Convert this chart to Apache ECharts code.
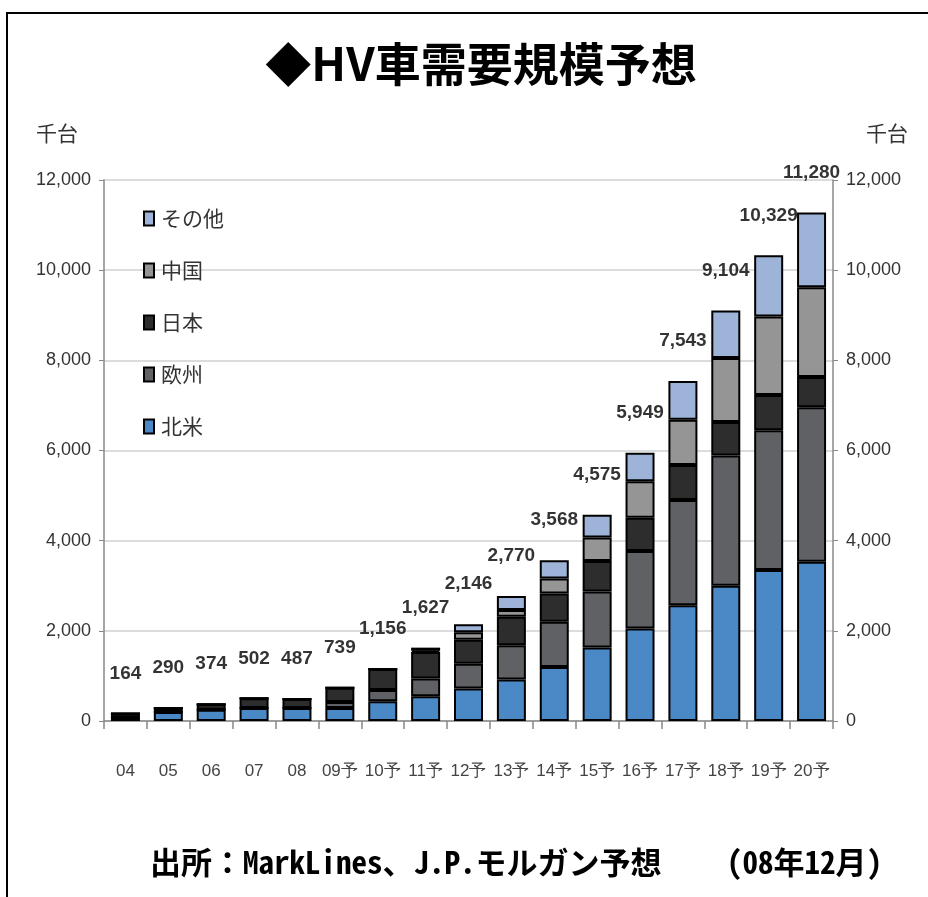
<!DOCTYPE html>
<html>
<head>
<meta charset="utf-8">
<script src="https://cdn.jsdelivr.net/npm/echarts@6/dist/echarts.min.js"></script>
<style>
html, body { margin: 0; padding: 0; background: #fff; }
#main { width: 928px; height: 897px; }
</style>
</head>
<body>
<div id="main"></div>
<script>
var years = ["04", "05", "06", "07", "08", "09予", "10予", "11予", "12予", "13予", "14予", "15予", "16予", "17予", "18予", "19予", "20予"];
var regions = ["北米", "欧州", "日本", "中国", "その他"];
var northAmerica = [70, 200, 250, 290, 290, 290, 440, 550, 720, 920, 1200, 1630, 2050, 2570, 3000, 3350, 3530];
var europe = [0, 0, 0, 0, 0, 130, 250, 390, 550, 760, 1000, 1240, 1720, 2330, 2890, 3100, 3430];
var japan = [94, 90, 124, 212, 197, 319, 466, 590, 530, 630, 630, 680, 740, 780, 740, 780, 670];
var china = [0, 0, 0, 0, 0, 0, 0, 30, 170, 150, 330, 520, 810, 1000, 1420, 1740, 1990];
var others = [0, 0, 0, 0, 0, 0, 0, 67, 176, 310, 408, 505, 629, 863, 1054, 1359, 1660];
var totals = [164, 290, 374, 502, 487, 739, 1156, 1627, 2146, 2770, 3568, 4575, 5949, 7543, 9104, 10329, 11280];
var yTicks = [0, 2000, 4000, 6000, 8000, 10000, 12000];

var sans = "'Liberation Sans', Arial, sans-serif";
var gothic = "'Noto Sans CJK JP', sans-serif";
var mono = "'Noto Sans Mono CJK JP', 'Noto Sans CJK JP', sans-serif";
var colors = ['#4a88c6', '#606165', '#2d2d2d', '#959595', '#9db4d8'];
var seriesData = [northAmerica, europe, japan, china, others];

var series = [];
for (var i = 0; i < regions.length; i++) {
	series.push({
		name: regions[i],
		type: 'bar',
		stack: 'hv',
		barWidth: 29,
		yAxisIndex: 0,
		itemStyle: {
			color: colors[i],
			borderColor: '#000',
			borderWidth: 2
		},
		data: seriesData[i]
	});
}
// totals above the bars
series.push({
	name: '合計',
	type: 'scatter',
	symbolSize: 1,
	itemStyle: { color: 'rgba(0,0,0,0)' },
	label: {
		show: true,
		position: 'top',
		distance: 30,
		formatter: function (p) { return p.value.toLocaleString('en-US'); },
		fontFamily: sans,
		fontWeight: 'bold',
		fontSize: 19,
		color: '#000'
	},
	z: 5,
	data: totals
});

var option = {
	animation: false,
	grid: { left: 104, right: 95, top: 180, bottom: 176 },
	legend: {
		data: regions.slice().reverse(),
		orient: 'vertical',
		left: 138,
		top: 203,
		itemWidth: 10,
		itemHeight: 14,
		itemGap: 31,
		icon: 'rect',
		textStyle: { fontFamily: gothic, fontSize: 21, color: '#333', padding: [0, 0, 0, 2] }
	},
	xAxis: {
		type: 'category',
		data: years,
		axisLine: { lineStyle: { color: '#888', width: 1.5 } },
		axisTick: { show: true, length: 8, lineStyle: { color: '#888', width: 1.5 } },
		axisLabel: { interval: 0, margin: 42, fontFamily: sans, fontSize: 17, color: '#444' }
	},
	yAxis: [{
		type: 'value',
		min: yTicks[0],
		max: yTicks[yTicks.length - 1],
		interval: 2000,
		position: 'left',
		axisLine: { show: true, lineStyle: { color: '#888', width: 1.5 } },
		axisTick: { show: true, length: 5, lineStyle: { color: '#888' } },
		axisLabel: { margin: 13, fontFamily: sans, fontSize: 18, color: '#333',
			formatter: function (v) { return v.toLocaleString('en-US'); } },
		splitLine: { lineStyle: { color: '#dcdcdc', width: 2 } }
	}, {
		type: 'value',
		min: yTicks[0],
		max: yTicks[yTicks.length - 1],
		interval: 2000,
		position: 'right',
		axisLine: { show: true, lineStyle: { color: '#888', width: 1.5 } },
		axisTick: { show: true, length: 5, lineStyle: { color: '#888' } },
		axisLabel: { margin: 13, fontFamily: sans, fontSize: 18, color: '#333',
			formatter: function (v) { return v.toLocaleString('en-US'); } },
		splitLine: { show: false }
	}],
	graphic: [
		{ type: 'polyline', shape: { points: [[7, 897], [7, 13], [928, 13]] }, style: { stroke: '#000', lineWidth: 2, fill: null } },
		{ type: 'text', x: 481, y: 64, style: { text: '◆HV車需要規模予想', font: 'bold 46px ' + gothic, fill: '#000', textAlign: 'center', textVerticalAlign: 'middle' } },
		{ type: 'text', x: 57, y: 133, style: { text: '千台', font: '21px ' + gothic, fill: '#333', textAlign: 'center', textVerticalAlign: 'middle' } },
		{ type: 'text', x: 887, y: 133, style: { text: '千台', font: '21px ' + gothic, fill: '#333', textAlign: 'center', textVerticalAlign: 'middle' } },
		{ type: 'text', x: 150, y: 862, style: { text: '出所：MarkLines、J.P.モルガン予想', font: 'bold 31px ' + mono, fill: '#000', textAlign: 'left', textVerticalAlign: 'middle' } },
		{ type: 'text', x: 882, y: 862, style: { text: '(08年12月)', font: 'bold 31px ' + mono, fill: '#000', textAlign: 'right', textVerticalAlign: 'middle' } }
	],
	series: series
};

var myChart = echarts.init(document.getElementById('main'));
myChart.setOption(option);
</script>
</body>
</html>
